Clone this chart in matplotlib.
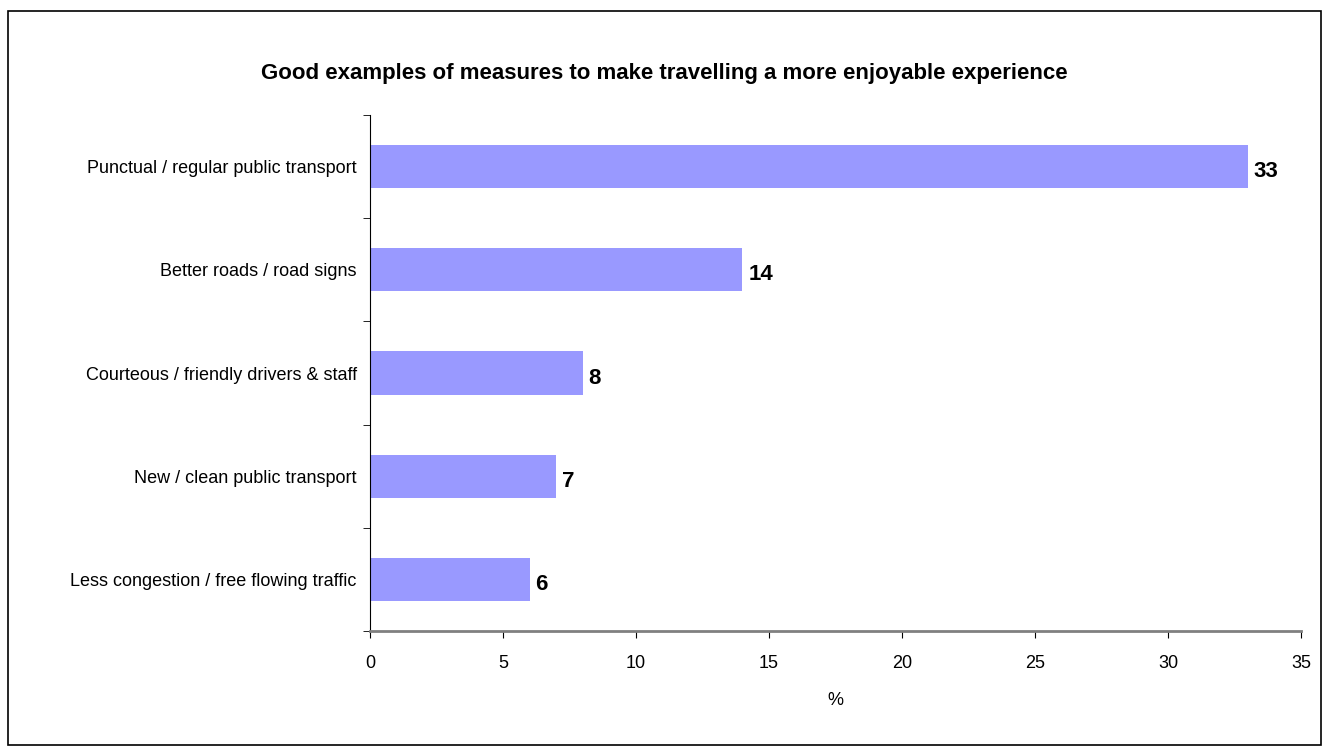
import matplotlib
matplotlib.use("Agg")
import matplotlib.pyplot as plt
from matplotlib.patches import Rectangle

TITLE = "Good examples of measures to make travelling a more enjoyable experience"
categories = [
    "Punctual / regular public transport",
    "Better roads / road signs",
    "Courteous / friendly drivers & staff",
    "New / clean public transport",
    "Less congestion / free flowing traffic",
]
values = [33, 14, 8, 7, 6]
x_ticks = [0, 5, 10, 15, 20, 25, 30, 35]

plt.rcParams["font.family"] = ["Liberation Sans", "DejaVu Sans"]

W, H = 1329, 753
fig = plt.figure(figsize=(W / 100, H / 100), dpi=100)
fig.patches.append(Rectangle((8 / W, 8 / H), 1313 / W, 734 / H, transform=fig.transFigure,
                             fill=False, edgecolor="black", linewidth=1.2))

ax = fig.add_axes([370 / W, (H - 631) / H, 931 / W, 516 / H])
pos = list(range(len(categories)))
ax.barh(pos, values, height=0.42, color="#9999FF", edgecolor="none")
for p, v in zip(pos, values):
    ax.text(v + 0.22, p + 0.05, str(v), va="center", ha="left", fontsize=16, fontweight="bold")

ax.set_xlim(0, 35)
ax.set_ylim(len(categories) - 0.5, -0.5)
ax.set_xticks(x_ticks)
ax.set_xticklabels([str(t) for t in x_ticks], fontsize=13)
ax.set_yticks(pos)
ax.set_yticklabels(categories, fontsize=13)
ax.tick_params(axis="y", length=0, pad=9.5)
ax.set_yticks([i - 0.5 for i in range(len(categories) + 1)], minor=True)
ax.tick_params(axis="y", which="minor", length=5, direction="out", color="black")
ax.tick_params(axis="x", length=5, direction="out", color="black", pad=12)
ax.set_xlabel("%", fontsize=13, labelpad=15)

for s in ["top", "right"]:
    ax.spines[s].set_visible(False)
ax.spines["left"].set_color("black")
ax.spines["bottom"].set_color("#808080")
ax.spines["bottom"].set_linewidth(2)

fig.text(0.5, (H - 73) / H, TITLE, ha="center", va="center", fontsize=16, fontweight="bold")

fig.savefig("out.png", dpi=100)
